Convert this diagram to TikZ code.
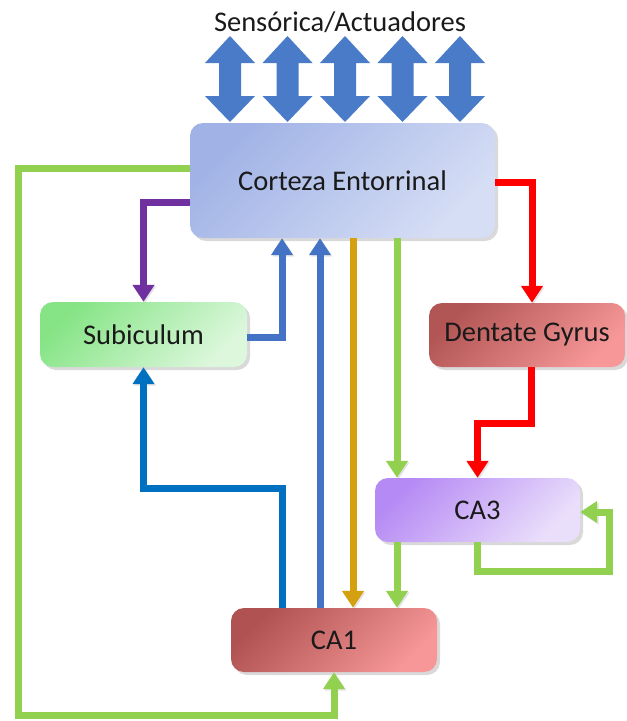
\documentclass[tikz,border=0pt]{standalone}
\usepackage{fontspec}
\setmainfont{Carlito}
\usetikzlibrary{arrows.meta,shadows}

\definecolor{txt}{HTML}{1A1A1A}
\definecolor{io}{HTML}{4A7BC9}
\definecolor{lgreen}{HTML}{92D050}
\definecolor{lpurple}{HTML}{7030A0}
\definecolor{lblue}{HTML}{4472C4}
\definecolor{lblueb}{HTML}{0070C0}
\definecolor{lorange}{HTML}{D4A00F}
\definecolor{lred}{HTML}{FF0000}
% box gradients (dark corner / light corner)
\definecolor{ceA}{HTML}{A1B3E6}\definecolor{ceB}{HTML}{D6DEF5}
\definecolor{subA}{HTML}{86E486}\definecolor{subB}{HTML}{DCF7DC}
\definecolor{dgA}{HTML}{B25555}\definecolor{dgB}{HTML}{F79797}
\definecolor{caiiiA}{HTML}{B68AF4}\definecolor{caiiiB}{HTML}{EADFFB}
\definecolor{caiA}{HTML}{B05252}\definecolor{caiB}{HTML}{F79797}

\tikzset{
  block/.style={rectangle, rounded corners=13pt, inner sep=0pt, text=txt,
    font=\fontsize{28.5}{34}\selectfont,
    drop shadow={shadow xshift=3pt, shadow yshift=-3pt, opacity=0.3}},
  shade2/.style n args={2}{top color=#1, bottom color=#2, shading angle=45},
  conn/.style={line width=7pt, -{Triangle[width=21pt,length=17pt]},
    preaction={draw=black!60, opacity=0.18,
      transform canvas={shift={(1.5pt,-1.5pt)}}}},
  ioarrow/.style={fill=io},
}

\begin{document}
\begin{tikzpicture}[x=1pt,y=-1pt]
\useasboundingbox (0,0) rectangle (627,721);

% label above the sensor/actuator arrows
\node[anchor=base, text=txt, font=\fontsize{28.5}{34}\selectfont] (io) at (340,31) {Sensórica/Actuadores};

% five double-headed sensor/actuator arrows
\foreach \x in {230,287.5,345,402.5,460} {
  \fill[ioarrow] (\x,36) -- (\x+25,63) -- (\x+11,63) -- (\x+11,96) -- (\x+25,96)
    -- (\x,122) -- (\x-25,96) -- (\x-11,96) -- (\x-11,63) -- (\x-25,63) -- cycle;
}

% regions
\node[block, shade2={ceA}{ceB}, minimum width=305pt, minimum height=115pt] (ce) at (342.5,180.5) {Corteza Entorrinal};
\node[block, shade2={subA}{subB}, minimum width=207pt, minimum height=65pt] (sub) at (143.5,334.5) {Subiculum};
\node[block, shade2={dgA}{dgB}, minimum width=196pt, minimum height=64pt] (dg) at (527,335) {Dentate Gyrus};
\node[block, shade2={caiiiA}{caiiiB}, minimum width=205pt, minimum height=64pt] (ca3) at (477.5,510) {CA3};
\node[block, shade2={caiA}{caiB}, minimum width=206pt, minimum height=64pt] (ca1) at (334,640) {CA1};

% pathways
\draw[conn, lgreen] (ce.west |- 0,168) -| (18,715) -| (ca1.south);
\draw[conn, lpurple] (ce.west |- 0,202) -| (sub.north);
\draw[conn, lblue] (sub.east |- 0,337) -| (ce.south -| 282,0);
\draw[conn, lblue] (ca1.north -| 320,0) -- (ce.south -| 320,0);
\draw[conn, lblueb] (ca1.north -| 282,0) |- (sub.south |- 0,488) -- (sub.south);
\draw[conn, lorange] (ce.south -| 353,0) -- (ca1.north -| 353,0);
\draw[conn, lgreen] (ce.south -| 397,0) -- (ca3.north -| 397,0);
\draw[conn, lred] (ce.east |- 0,182) -| (dg.north -| 532,0);
\draw[conn, lred] (dg.south -| 531,0) |- (ca3.north |- 0,423) -- (ca3.north);
\draw[conn, lgreen] (ca3.south -| 397,0) -- (ca1.north -| 397,0);
\draw[conn, lgreen] (ca3.south) |- (609,571) |- (ca3.east |- 0,512);
\end{tikzpicture}
\end{document}
